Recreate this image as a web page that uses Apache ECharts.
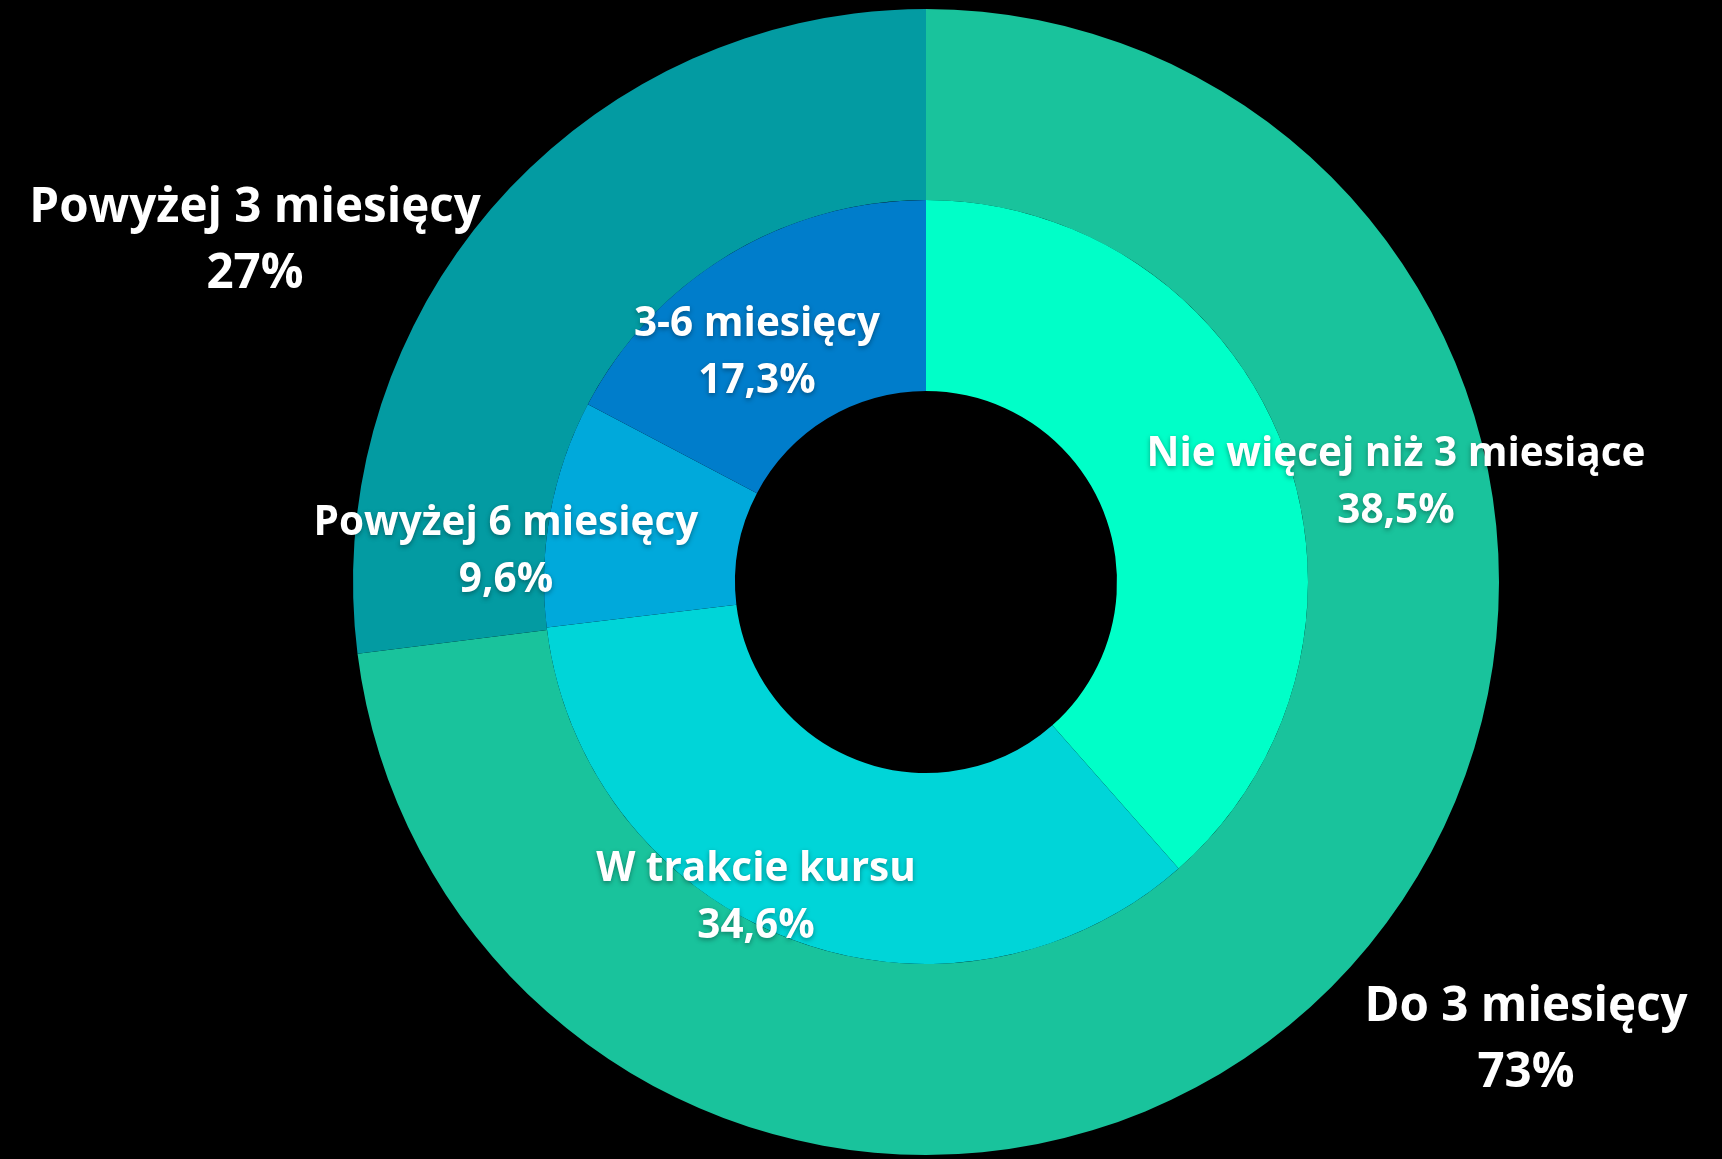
<!DOCTYPE html>
<html>
<head>
<meta charset="utf-8">
<title>Czas znalezienia pracy</title>
<script src="https://cdn.jsdelivr.net/npm/echarts@6/dist/echarts.min.js"></script>
<style>
  html, body {
    margin: 0;
    padding: 0;
    background: #000;
  }
  #chart {
    width: 1722px;
    height: 1159px;
  }
</style>
</head>
<body>
<div id="chart"></div>
<script>
// outer ring
var outerNames = ['Do 3 miesięcy', 'Powyżej 3 miesięcy'];
var outerValues = [73, 27];
var outerColors = ['#19C39C', '#039BA2'];

// inner ring
var innerNames = ['Nie więcej niż 3 miesiące', 'W trakcie kursu', 'Powyżej 6 miesięcy', '3-6 miesięcy'];
var innerValues = [38.5, 34.6, 9.6, 17.3];
var innerColors = ['#00FFC8', '#00D5D8', '#00A9DB', '#007DCB'];

// label centres (px)
var outerLabelPos = [[1526, 1040], [255, 241]];
var innerLabelPos = [[1396, 483], [756, 898], [506, 552], [757, 353]];

function toData(names, values, colors) {
  return names.map(function (n, i) {
    return { name: n, value: values[i], itemStyle: { color: colors[i] } };
  });
}

function fmt(p) {
  return p.name + '\n' + String(p.value).replace('.', ',') + '%';
}

var myChart = echarts.init(document.getElementById('chart'));
var option = {
  backgroundColor: '#000',
  animation: false,
  series: [
    {
      type: 'pie',
      center: [926, 582],
      radius: [382, 573],
      startAngle: 90,
      silent: true,
      itemStyle: { borderWidth: 0 },
      label: {
        show: true,
        position: 'inside',
        formatter: fmt,
        color: '#fff',
        fontFamily: 'Open Sans',
        fontWeight: 'bold',
        fontSize: 47.5,
        lineHeight: 66,
        align: 'center'
      },
      labelLine: { show: false },
      labelLayout: function (params) {
        var p = outerLabelPos[params.dataIndex];
        return { x: p[0], y: p[1], align: 'center', verticalAlign: 'middle' };
      },
      data: toData(outerNames, outerValues, outerColors)
    },
    {
      type: 'pie',
      center: [926, 582],
      radius: [191, 382],
      startAngle: 90,
      silent: true,
      z: 3,
      itemStyle: { borderWidth: 0 },
      label: {
        show: true,
        position: 'inside',
        formatter: fmt,
        color: '#fff',
        fontFamily: 'Open Sans',
        fontWeight: 'bold',
        fontSize: 40.5,
        lineHeight: 57,
        align: 'center',
        textShadowColor: 'rgba(0,0,0,0.35)',
        textShadowBlur: 5,
        textShadowOffsetY: 2
      },
      labelLine: { show: false },
      labelLayout: function (params) {
        var p = innerLabelPos[params.dataIndex];
        return { x: p[0], y: p[1], align: 'center', verticalAlign: 'middle' };
      },
      data: toData(innerNames, innerValues, innerColors)
    }
  ]
};
myChart.setOption(option);
window.onresize = myChart.resize;
</script>
</body>
</html>
